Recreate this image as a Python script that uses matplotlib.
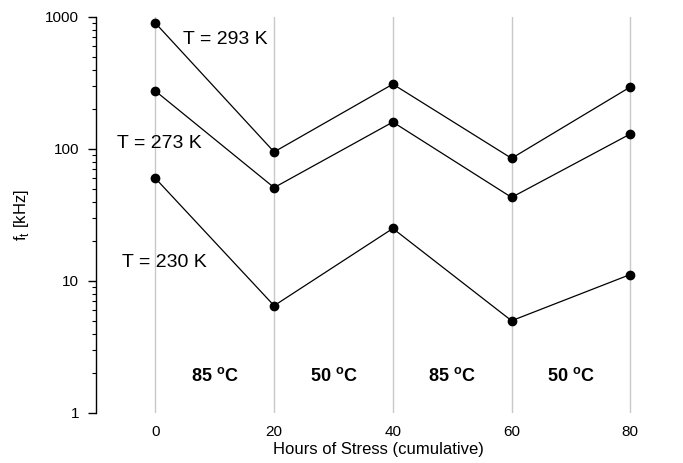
import matplotlib
matplotlib.use("Agg")
import matplotlib.pyplot as plt
from matplotlib.ticker import LogLocator, NullFormatter, FixedLocator

plt.rcParams['font.family'] = ['Liberation Sans', 'DejaVu Sans']

hours = [0, 20, 40, 60, 80]
f293 = [900, 95, 310, 85, 295]
f273 = [275, 51, 160, 43, 130]
f230 = [60, 6.5, 25, 5.0, 11.2]
series_labels = ["T = 293 K", "T = 273 K", "T = 230 K"]
label_pos = [(4.7, 680), (-6.4, 111), (-5.7, 13.7)]
phase_x = [10, 30, 50, 70]
phase_labels = ["85 $^{\\mathregular{o}}$C", "50 $^{\\mathregular{o}}$C",
                "85 $^{\\mathregular{o}}$C", "50 $^{\\mathregular{o}}$C"]

fig = plt.figure(figsize=(6.83, 4.63), dpi=100)
ax = fig.add_axes([96/683, 1-413/463, (660-96)/683, (413-17)/463])

for x in hours:
    ax.axvline(x, color='#c8c8c8', lw=1.0, zorder=0)

for ys in (f293, f273, f230):
    ax.plot(hours, ys, color='black', lw=0.9, marker='o', ms=6, zorder=3)

for lab, (x, y) in zip(series_labels, label_pos):
    ax.text(x, y, lab, fontsize=14, ha='left', va='center')

for x, lab in zip(phase_x, phase_labels):
    ax.text(x, 1.9, lab, fontsize=13, fontweight='bold', ha='center', va='center')

ax.set_yscale('log')
ax.set_ylim(1, 1000)
ax.set_xlim(-10, 85)
ax.yaxis.set_major_locator(FixedLocator([1, 10, 100, 1000]))
ax.set_yticklabels(['1', '10', '100', '1000'])
ax.yaxis.set_minor_locator(LogLocator(base=10, subs=range(2, 10)))
ax.yaxis.set_minor_formatter(NullFormatter())
ax.tick_params(axis='y', which='major', length=6, width=1, labelsize=11, pad=6)
ax.tick_params(axis='y', which='minor', length=3, width=0.8)

ax.set_xticks(hours)
ax.set_xticklabels([str(h) for h in hours])
ax.tick_params(axis='x', length=0, labelsize=11, pad=9)

for s in ('top', 'right', 'bottom'):
    ax.spines[s].set_visible(False)
ax.spines['left'].set_linewidth(1)

ax.set_xlabel('Hours of Stress (cumulative)', fontsize=12, labelpad=2)
ax.set_ylabel('f$_\\mathregular{t}$ [kHz]', fontsize=12, labelpad=10)

fig.savefig('out.png', dpi=100)
